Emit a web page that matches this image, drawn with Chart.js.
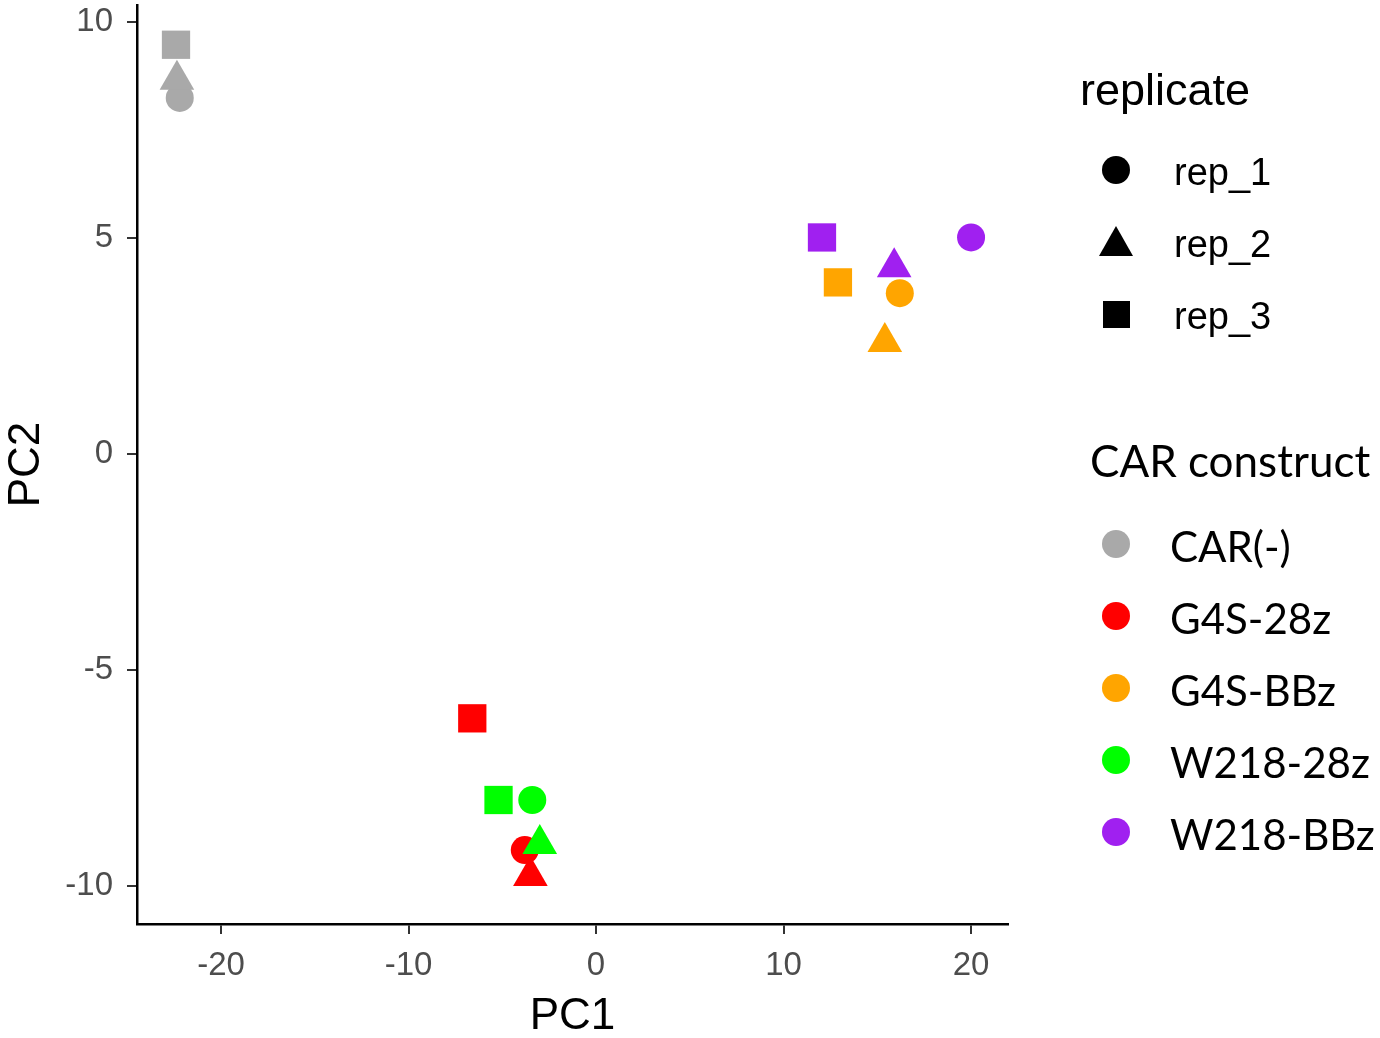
<!DOCTYPE html>
<html>
<head>
<meta charset="utf-8">
<script src="https://cdn.jsdelivr.net/npm/chart.js@4.4.0/dist/chart.umd.min.js"></script>
<style>
  body { margin: 0; background: #fff; }
  #wrap { position: relative; width: 1380px; height: 1038px; }
  #pca { position: absolute; left: 0; top: 0; }
  .lg { position: absolute; white-space: nowrap; color: #000; }
  .lg-title-rep { font-family: "Liberation Sans", Arial, sans-serif; font-size: 45px; line-height: 45px; }
  .lg-rep { font-family: "Liberation Sans", Arial, sans-serif; font-size: 38px; line-height: 38px; }
  .lg-car-title { font-family: Lato, "Noto Sans", sans-serif; font-size: 44px; line-height: 44px; }
  .lg-car { font-family: Lato, "Noto Sans", sans-serif; font-size: 42px; line-height: 42px; }
  .mk { position: absolute; }
</style>
</head>
<body>
<div id="wrap">
  <canvas id="pca" width="1380" height="1038"></canvas>
</div>
<script>
// CAR constructs and their colours
const constructs = ['CAR(-)', 'G4S-28z', 'G4S-BBz', 'W218-28z', 'W218-BBz'];
const constructColors = ['#A9A9A9', '#FF0000', '#FFA500', '#00FF00', '#A020F0'];

// replicate names and marker shapes
const replicates = ['rep_1', 'rep_2', 'rep_3'];
const repStyles = ['circle', 'triangle', 'rect'];
const repRadius = [14, 20, 20];

// PC1 / PC2 per replicate, in construct order
const rep1PC1 = [-22.2, -3.8, 16.2, -3.4, 20.0];
const rep1PC2 = [8.24, -9.17, 3.72, -8.01, 5.01];
const rep2PC1 = [-22.35, -3.5, 15.4, -3.0, 15.9];
const rep2PC2 = [8.66, -9.77, 2.59, -9.03, 4.32];
const rep3PC1 = [-22.4, -6.6, 12.9, -5.2, 12.05];
const rep3PC2 = [9.47, -6.12, 3.97, -8.01, 5.01];

// tick labels
const xTicks = [-20, -10, 0, 10, 20];
const yTicks = [-10, -5, 0, 5, 10];

const repPC1 = [rep1PC1, rep2PC1, rep3PC1];
const repPC2 = [rep1PC2, rep2PC2, rep3PC2];
// triangles sit on top of circles, squares at the bottom
const repOrder = [2, 1, 3];

const datasets = replicates.map((rep, r) => ({
    label: rep,
    data: repPC1[r].map((x, i) => ({ x: x, y: repPC2[r][i] })),
    pointStyle: repStyles[r],
    pointRadius: repRadius[r],
    pointHoverRadius: repRadius[r],
    backgroundColor: constructColors,
    borderColor: constructColors,
    borderWidth: 0,
    order: repOrder[r]
}));

const tickFont = { family: "'Liberation Sans', Arial, sans-serif", size: 33 };
const titleFont = { family: "'Liberation Sans', Arial, sans-serif", size: 44 };

new Chart(document.getElementById('pca'), {
    type: 'scatter',
    data: { datasets: datasets },
    options: {
        responsive: false,
        animation: false,
        devicePixelRatio: 1,
        layout: { autoPadding: false, padding: { top: 5, right: 372, bottom: 0, left: 0 } },
        plugins: {
            legend: { display: false },
            tooltip: { enabled: false }
        },
        scales: {
            x: {
                type: 'linear',
                min: -24.48,
                max: 21.97,
                afterFit: s => { s.height = 114; s.paddingLeft = 0; s.paddingRight = 0; },
                afterBuildTicks: s => { s.ticks = xTicks.map(v => ({ value: v })); },
                grid: { drawOnChartArea: false, drawTicks: true, tickLength: 10, color: '#333', lineWidth: 2 },
                border: { display: true, color: '#000', width: 2.5 },
                ticks: { color: '#4D4D4D', font: tickFont, padding: 12, maxRotation: 0 },
                title: { display: true, text: 'PC1', color: '#000', font: titleFont, padding: { top: 0, bottom: -5 } }
            },
            y: {
                type: 'linear',
                min: -10.88,
                max: 10.39,
                afterFit: s => { s.width = 137; s.paddingTop = 0; s.paddingBottom = 0; },
                afterBuildTicks: s => { s.ticks = yTicks.map(v => ({ value: v })); },
                grid: { drawOnChartArea: false, drawTicks: true, tickLength: 10, color: '#333', lineWidth: 2 },
                border: { display: true, color: '#000', width: 2.5 },
                ticks: { color: '#4D4D4D', font: tickFont, padding: 14 },
                title: { display: true, text: 'PC2', color: '#000', font: titleFont, padding: { top: 0, bottom: 0 } }
            }
        }
    }
});

// Legends built as HTML next to the plot
const wrap = document.getElementById('wrap');

function addText(text, cls, left, top) {
    const d = document.createElement('div');
    d.className = 'lg ' + cls;
    d.textContent = text;
    d.style.left = left + 'px';
    d.style.top = top + 'px';
    wrap.appendChild(d);
}

function addMarker(shape, color, cx, cy) {
    const m = document.createElement('div');
    m.className = 'mk';
    if (shape === 'circle') {
        Object.assign(m.style, { width: '28px', height: '28px', borderRadius: '50%', background: color,
            left: (cx - 14) + 'px', top: (cy - 14) + 'px' });
    } else if (shape === 'triangle') {
        Object.assign(m.style, { width: 0, height: 0, borderLeft: '17px solid transparent',
            borderRight: '17px solid transparent', borderBottom: '30px solid ' + color,
            left: (cx - 17) + 'px', top: (cy - 16) + 'px' });
    } else {
        Object.assign(m.style, { width: '27px', height: '27px', background: color,
            left: (cx - 13) + 'px', top: (cy - 13) + 'px' });
    }
    wrap.appendChild(m);
}

addText('replicate', 'lg-title-rep', 1080, 67);
replicates.forEach((rep, i) => {
    const cy = 170 + i * 72;
    addMarker(repStyles[i], '#000', 1116, cy);
    addText(rep, 'lg-rep', 1174, cy - 17);
});

addText('CAR construct', 'lg-car-title', 1090, 438);
constructs.forEach((c, i) => {
    const cy = 544 + i * 72;
    addMarker('circle', constructColors[i], 1116, cy);
    addText(c, 'lg-car', 1170, cy - 19);
});
</script>
</body>
</html>
